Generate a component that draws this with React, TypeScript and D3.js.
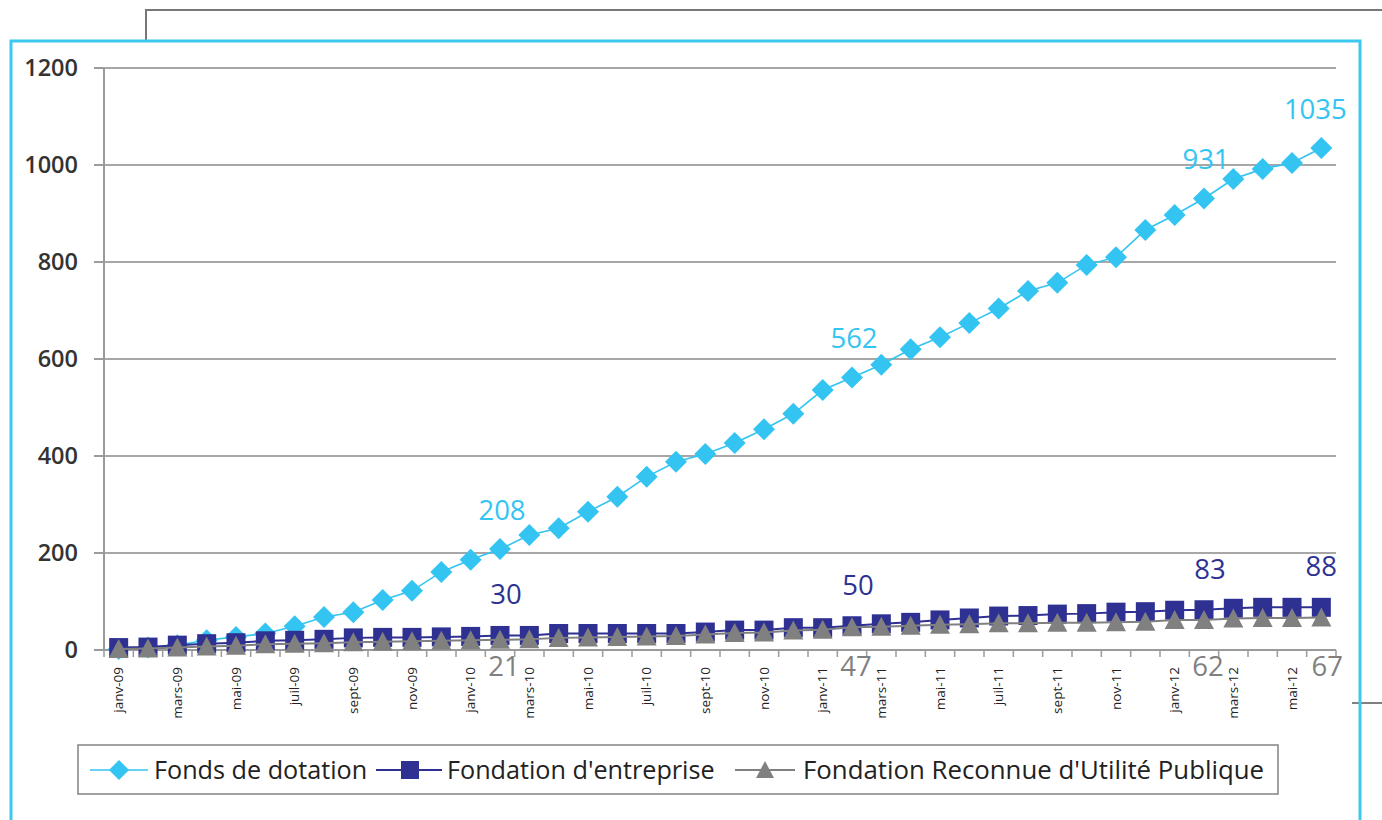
import React from "react";
import * as d3 from "d3";

const months = [
  "janv-09","févr-09","mars-09","avr-09","mai-09","juin-09","juil-09","août-09","sept-09","oct-09","nov-09","déc-09",
  "janv-10","févr-10","mars-10","avr-10","mai-10","juin-10","juil-10","août-10","sept-10","oct-10","nov-10","déc-10",
  "janv-11","févr-11","mars-11","avr-11","mai-11","juin-11","juil-11","août-11","sept-11","oct-11","nov-11","déc-11",
  "janv-12","févr-12","mars-12","avr-12","mai-12","juin-12"
];

const fondsDotation = [
  2, 5, 10, 20, 27, 34, 49, 68, 78, 103, 122, 161,
  186, 208, 237, 251, 285, 316, 357, 388, 404, 427, 455, 487,
  536, 562, 588, 620, 645, 674, 704, 740, 757, 794, 810, 866,
  897, 931, 971, 992, 1004, 1035
];

const fondationEntreprise = [
  5, 6, 10, 13, 15, 19, 20, 22, 25, 26, 26, 27,
  28, 30, 30, 34, 34, 34, 34, 34, 37, 41, 41, 46,
  46, 50, 54, 57, 62, 66, 70, 71, 74, 75, 78, 79,
  82, 83, 86, 88, 88, 88
];

const fondationRUP = [
  2, 3, 5, 7, 9, 12, 13, 14, 16, 17, 18, 19,
  20, 21, 22, 25, 26, 27, 28, 29, 32, 35, 36, 40,
  42, 47, 48, 50, 52, 53, 55, 55, 56, 56, 57, 58,
  62, 62, 65, 66, 66, 67
];

const labelledIdx = [13, 25, 37, 41];
const yTicks = [0, 200, 400, 600, 800, 1000, 1200];
const seriesNames = ["Fonds de dotation", "Fondation d'entreprise", "Fondation Reconnue d'Utilité Publique"];

const CYAN = "#33c4f2";
const NAVY = "#2e3192";
const GRAY = "#808080";
const FONT = "'Open Sans', 'Noto Sans', sans-serif";

export default function App() {
  const W = 1382, H = 820;
  const x = d3.scaleBand<number>().domain(months.map((_, i) => i)).range([104, 1336]).paddingInner(0).paddingOuter(0);
  const bw = x.bandwidth();
  const cx = (i: number) => (x(i) as number) + bw / 2;
  const y = d3.scaleLinear().domain([0, 1200]).range([650, 68]);

  const line = d3.line<number>().x((_, i) => cx(i)).y((d) => y(d));

  const diamond = (px: number, py: number, r = 11) =>
    `M${px},${py - r}L${px + r},${py}L${px},${py + r}L${px - r},${py}Z`;
  const tri = (px: number, py: number, r = 10) =>
    `M${px},${py - r}L${px + r},${py + r * 0.9}L${px - r},${py + r * 0.9}Z`;

  const x0 = 104, x1 = 1336;

  return (
    <svg width={W} height={H} style={{ position: "absolute", left: 0, top: 0, background: "#fff" }} fontFamily={FONT}>
      <rect x={0} y={0} width={W} height={H} fill="#fff" />
      {/* outer frame fragments */}
      <path d={`M146,41V10H${W}`} fill="none" stroke="#777" strokeWidth={2} />
      <path d={`M1352,703H${W}`} fill="none" stroke="#555" strokeWidth={1.5} />
      <path d={`M11,${H}V41H1360V${H}`} fill="none" stroke="#3cc8f0" strokeWidth={3} />

      {/* gridlines */}
      {yTicks.filter((t) => t > 0).map((t) => (
        <line key={t} x1={x0 - 10} x2={x1} y1={y(t)} y2={y(t)} stroke="#8a8a8a" strokeWidth={1.6} />
      ))}
      {/* y axis */}
      <line x1={x0} x2={x0} y1={y(1200)} y2={y(0)} stroke="#9a9a9a" strokeWidth={2} />
      {yTicks.map((t) => (
        <g key={t}>
          <line x1={x0 - 10} x2={x0} y1={y(t)} y2={y(t)} stroke="#9a9a9a" strokeWidth={1.6} />
          <text x={78} y={y(t)} dy="0.36em" textAnchor="end" fontSize={23.5} fontWeight={600} fill="#333">{t}</text>
        </g>
      ))}
      {/* x axis */}
      <line x1={x0 - 10} x2={x1} y1={y(0)} y2={y(0)} stroke="#9a9a9a" strokeWidth={2} />
      {months.map((_, i) => (
        <line key={i} x1={x(i) as number} x2={x(i) as number} y1={y(0)} y2={y(0) + 7} stroke="#9a9a9a" strokeWidth={1.5} />
      ))}
      <line x1={x1} x2={x1} y1={y(0)} y2={y(0) + 7} stroke="#9a9a9a" strokeWidth={1.5} />
      {months.map((m, i) =>
        i % 2 === 0 ? (
          <text key={m} transform={`translate(${cx(i)},667) rotate(-90)`} dy="0.35em" textAnchor="end" fontSize={13.5} fill="#222">{m}</text>
        ) : null
      )}

      {/* Fonds de dotation */}
      <path d={line(fondsDotation) || ""} fill="none" stroke={CYAN} strokeWidth={1.6} />
      {fondsDotation.map((v, i) => (
        <path key={i} d={diamond(cx(i), y(v))} fill={CYAN} />
      ))}

      {/* Fondation d'entreprise */}
      <path d={line(fondationEntreprise) || ""} fill="none" stroke={NAVY} strokeWidth={2} />
      {fondationEntreprise.map((v, i) => (
        <rect key={i} x={cx(i) - 9.5} y={y(v) - 9.5} width={19} height={19} fill={NAVY} />
      ))}

      {/* Fondation RUP */}
      <path d={line(fondationRUP) || ""} fill="none" stroke={GRAY} strokeWidth={2} />
      {fondationRUP.map((v, i) => (
        <path key={i} d={tri(cx(i), y(v))} fill={GRAY} />
      ))}

      {/* data labels */}
      {labelledIdx.map((i, k) => (
        <g key={i}>
          <text x={cx(i) + (k === 3 ? -6 : 2)} y={y(fondsDotation[i]) - 29} textAnchor="middle" fontSize={27.5} fill={CYAN}>{fondsDotation[i]}</text>
          <text x={cx(i) + (k === 3 ? 0 : 6)} y={y(fondationEntreprise[i]) - 31} textAnchor="middle" fontSize={27.5} fill={NAVY}>{fondationEntreprise[i]}</text>
          <text x={cx(i) + (k === 3 ? 6 : 4)} y={y(0) + 26} textAnchor="middle" fontSize={27.5} fill={GRAY}>{fondationRUP[i]}</text>
        </g>
      ))}

      {/* legend */}
      <rect x={78} y={745} width={1200} height={49} fill="#fff" stroke="#8a8a8a" strokeWidth={1.6} />
      <g>
        <line x1={90} x2={148} y1={770} y2={770} stroke={CYAN} strokeWidth={1.6} />
        <path d={diamond(119, 770, 10)} fill={CYAN} />
        <text x={154} y={770} dy="0.36em" fontSize={25.2} fill="#222">{seriesNames[0]}</text>
        <line x1={376} x2={442} y1={770} y2={770} stroke={NAVY} strokeWidth={2} />
        <rect x={401} y={761} width={18} height={18} fill={NAVY} />
        <text x={447} y={770} dy="0.36em" fontSize={25.2} fill="#222">{seriesNames[1]}</text>
        <line x1={735} x2={795} y1={770} y2={770} stroke={GRAY} strokeWidth={2} />
        <path d={tri(765, 770, 9)} fill={GRAY} />
        <text x={803} y={770} dy="0.36em" fontSize={25.8} fill="#222">{seriesNames[2]}</text>
      </g>
    </svg>
  );
}
